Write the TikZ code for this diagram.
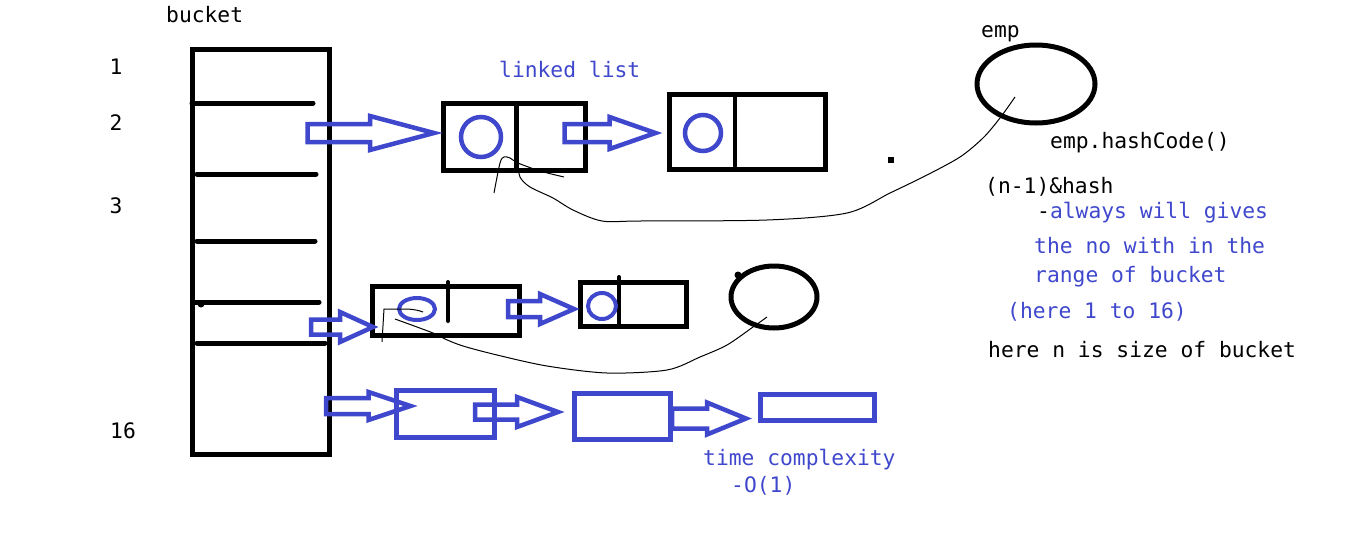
\documentclass[tikz,border=0pt]{standalone}
\usepackage{fontspec}
\setmainfont{DejaVu Sans Mono}
\usepackage{xcolor}
\usetikzlibrary{shapes.geometric, calc}
\definecolor{azul}{HTML}{3F48CC}

\tikzset{
  caixa/.style={draw, line width=5pt, inner sep=0pt, outer sep=0pt},
  caixaazul/.style={caixa, draw=azul},
  elipse/.style={ellipse, draw, line width=5pt, inner sep=0pt, outer sep=0pt},
  seta/.style={draw=azul, line width=4.5pt, line join=miter},
  texto/.style={font=\fontsize{21.3}{24}\selectfont, inner sep=0pt, anchor=base west},
  traco/.style={line width=5pt, line cap=round},
  fio/.style={line width=1pt},
}

% seta vazada: inicio, ponta, comprimento da ponta, meia altura do corpo, meia altura da ponta
\newcommand{\setabloco}[5]{%
  \draw[seta] let \p1=(#1), \p2=(#2) in
    (\x1,\y2+#4pt) -- (\x2-#3pt,\y2+#4pt) -- (\x2-#3pt,\y2+#5pt) -- (\x2,\y2)
    -- (\x2-#3pt,\y2-#5pt) -- (\x2-#3pt,\y2-#4pt) -- (\x1,\y2-#4pt) -- cycle;}

\begin{document}
\begin{tikzpicture}[x=1pt, y=-1pt]
  \useasboundingbox (0,0) rectangle (1349,544);

  % Balde (bucket)
  \node[caixa, minimum width=137, minimum height=405] (balde) at (261,252) {};
  \node[texto] (tbalde) at (166,22) {bucket};
  \node[texto, anchor=base] (i1) at (116,74) {1};
  \node[texto, anchor=base] (i2) at (116,130) {2};
  \node[texto, anchor=base] (i3) at (116,213) {3};
  \node[texto, anchor=base] (i16) at (123,438) {16};

  % Divisorias do balde
  \draw[traco] (192,103) -- (313,103);
  \draw[traco] (197,174) -- (316,174);
  \draw[traco] (197,241) -- (315,241);
  \draw[traco] (195,302) -- (319,302);
  \fill (201,304) circle (3.5);
  \draw[traco] (197,343) -- (325,343);

  % Lista ligada de cima
  \node[caixa, minimum width=142, minimum height=67] (no1) at (514.5,137) {};
  \draw[line width=5pt] (516,103) -- (516,171);
  \node[circle, draw=azul, line width=4.5pt, minimum size=40, inner sep=0pt] (c1) at (481,137) {};
  \node[caixa, minimum width=156, minimum height=75] (no2) at (747.5,132) {};
  \draw[line width=4.5pt, line cap=round] (735,96) -- (735,166);
  \node[circle, draw=azul, line width=4.5pt, minimum size=36, inner sep=0pt] (c2) at (703,133) {};
  \node[texto, text=azul] (tlista) at (499,77) {linked list};
  \fill (888,157) rectangle (894,163);

  \setabloco{$(balde.east)+(-22,0)$}{$(no1.west)+(-9.5,-4)$}{64}{9}{17}
  \setabloco{$(no1.east)+(-21,0)$}{$(no2.west)+(-14,1)$}{46}{9}{16}

  % Objeto emp
  \node[elipse, minimum width=118, minimum height=78] (emp) at (1036,84) {};
  \node[texto] (temp) at (981,37) {emp};
  \draw[fio] plot[smooth, tension=0.5] coordinates {(1015,97) (1000,118) (983,138) (960,157)
    (927,175) (890,193) (847,213) (767,220) (640,221) (602,221) (573,210) (553,198)
    (530,187) (520,177) (518,163)};
  \draw[fio] plot[smooth, tension=0.5] coordinates {(494,193) (500,163) (504,157) (510,158)
    (518,163) (540,171) (564,177)};

  % Textos da direita
  \node[texto] (thash) at (1050,148) {emp.hashCode()};
  \node[texto] (tn) at (985,193) {(n-1)\&hash};
  \node[texto] (tsempre) at (1037,218) {-\textcolor{azul}{always will gives}};
  \node[texto, text=azul] (tno) at (1034,253) {the no with in the};
  \node[texto, text=azul] (tfaixa) at (1034,282) {range of bucket};
  \node[texto, text=azul] (taqui) at (1007,318) {(here 1 to 16)};
  \node[texto] (ttam) at (988,357) {here n is size of bucket};

  % Lista ligada do meio
  \node[caixa, minimum width=147, minimum height=49] (no3) at (446,311) {};
  \draw[line width=4pt, line cap=round] (448,282) -- (448,321);
  \node[ellipse, draw=azul, line width=4pt, minimum width=36, minimum height=22, inner sep=0pt] (c3) at (417,309) {};
  \node[caixa, minimum width=106, minimum height=44] (no4) at (633.5,304.5) {};
  \draw[line width=4pt, line cap=round] (619,277) -- (619,327);
  \node[ellipse, draw=azul, line width=4pt, minimum width=28, minimum height=26, inner sep=0pt] (c4) at (602,306) {};
  \node[elipse, minimum width=86, minimum height=62] (obj) at (774,297) {};
  \fill (738,275) circle (3.5);
  \draw[fio] plot[smooth, tension=0.5] coordinates {(767,317) (753,327) (727,345) (700,357)
    (667,370) (607,373) (547,366) (497,355) (463,346) (445,339) (433,333) (395,319)};
  \draw[fio] (382,342) -- (384,309) -- (400,309) to[out=0, in=160] (423,312);

  \setabloco{$(balde.east)+(-18.5,0)$}{$(no3.west)+(0.5,16)$}{33}{7.5}{15}
  \setabloco{$(no3.east)+(-11.5,0)$}{$(no4.west)+(-6.5,4.5)$}{34}{8}{15}

  % Lista de baixo
  \node[caixaazul, minimum width=98, minimum height=47] (az1) at (445.5,414) {};
  \node[caixaazul, minimum width=96, minimum height=46] (az2) at (622.5,416.5) {};
  \node[caixaazul, line width=4.5pt, minimum width=114, minimum height=26] (az3) at (817.5,407.5) {};

  \setabloco{$(balde.east)+(-3.5,0)$}{$(az1.west)+(14,-8)$}{42}{8}{14}
  \setabloco{$(az1.east)+(-19.5,0)$}{$(az2.west)+(-16.5,-4.5)$}{41}{7.5}{15}
  \setabloco{$(az2.east)+(1.5,0)$}{$(az3.west)+(-14.5,11)$}{39}{10}{16}

  \node[texto, text=azul] (ttempo) at (703,465) {time complexity};
  \node[texto, text=azul] (tordem) at (731,492) {-O(1)};
\end{tikzpicture}
\end{document}
